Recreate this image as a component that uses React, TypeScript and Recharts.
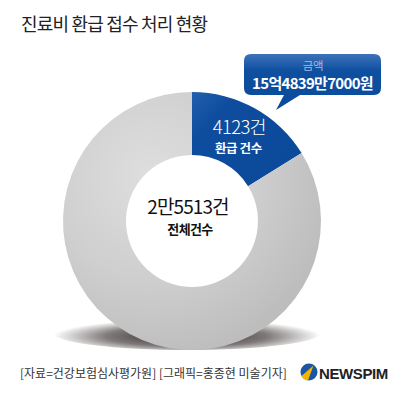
import { PieChart, Pie, Cell, Customized } from "recharts";

const categories = ["환급 건수", "미환급 건수"];
const counts = [4123, 21390];
const totalLabel = "2만5513건";
const refundLabel = "4123건";
const amountLabel = "15억4839만7000원";

const data = categories.map((name, i) => ({ name, value: counts[i] }));
const colors = ["url(#blueFill)", "url(#grayFill)"];

const FONT = "'Noto Sans CJK KR', 'Noto Sans', sans-serif";

const renderSliceLabel = ({ cx, cy, midAngle, innerRadius, outerRadius, index }: any) => {
  if (index !== 0) return null;
  const RAD = Math.PI / 180;
  const r = (innerRadius + outerRadius) / 2;
  const x = cx + r * Math.cos(-midAngle * RAD);
  const y = cy + r * Math.sin(-midAngle * RAD);
  return (
    <g>
      <text x={x} y={y - 2} textAnchor="middle" fill="#fff" fontSize={18.5} fontFamily={FONT} fontWeight={300} letterSpacing={-0.7}>
        {refundLabel}
      </text>
      <text x={x - 1} y={y + 17} textAnchor="middle" fill="#fff" fontSize={12.5} fontFamily={FONT} fontWeight={700} letterSpacing={-0.4}>
        {categories[0]}
      </text>
    </g>
  );
};

const Overlay = () => (
  <g>
    <path
      d="M251,54 H374 Q381,54 381,61 V88 Q381,95 374,95 H300 L276,110 L284,95 H251 Q244,95 244,88 V61 Q244,54 251,54 Z"
      fill="url(#boxFill)"
    />
    <text x={313} y={70} textAnchor="middle" fill="#9fbbe6" fontSize={11.5} fontFamily={FONT} letterSpacing={-0.3}>
      금액
    </text>
    <text x={312.5} y={89} textAnchor="middle" fill="#fff" fontSize={15} fontFamily={FONT} fontWeight={700} letterSpacing={-0.7}>
      {amountLabel}
    </text>
    <text x={188} y={214} textAnchor="middle" fill="#111" fontSize={19} fontFamily={FONT} fontWeight={400} letterSpacing={-0.9}>
      {totalLabel}
    </text>
    <text x={190} y={234} textAnchor="middle" fill="#111" fontSize={13} fontFamily={FONT} fontWeight={700} letterSpacing={-0.6}>
      전체건수
    </text>
  </g>
);

const App = () => {
  return (
    <div style={{ position: "absolute", left: 0, top: 0, width: 403, height: 398, background: "#fff" }}>
      <svg width={403} height={398} style={{ position: "absolute", left: 0, top: 0 }}>
        <defs>
          <radialGradient id="grayFill" gradientUnits="userSpaceOnUse" cx={150} cy={175} r={185}>
            <stop offset="0" stopColor="#dedede" />
            <stop offset="0.55" stopColor="#cfcfcf" />
            <stop offset="1" stopColor="#bdbdbd" />
          </radialGradient>
          <linearGradient id="blueFill" gradientUnits="userSpaceOnUse" x1={187} y1={90} x2={300} y2={200}>
            <stop offset="0" stopColor="#2762ad" />
            <stop offset="0.25" stopColor="#0e4c9e" />
            <stop offset="1" stopColor="#0a4898" />
          </linearGradient>
          <linearGradient id="boxFill" x1="0" y1="0" x2="0" y2="1">
            <stop offset="0" stopColor="#3d72b8" />
            <stop offset="0.3" stopColor="#0e4fa0" />
            <stop offset="1" stopColor="#0b4a9b" />
          </linearGradient>
          <radialGradient id="shadowFill" cx="0.5" cy="0.6" r="0.5">
            <stop offset="0" stopColor="#1e1414" stopOpacity="0.95" />
            <stop offset="0.6" stopColor="#2a2020" stopOpacity="0.6" />
            <stop offset="1" stopColor="#2a2020" stopOpacity="0" />
          </radialGradient>
        </defs>
        <text x={21} y={31} fill="#222" fontSize={18} fontFamily={FONT} letterSpacing={-0.8}>
          진료비 환급 접수 처리 현황
        </text>
        <ellipse cx={187} cy={333} rx={134} ry={17} fill="url(#shadowFill)" />
        <text x={20} y={378} fill="#333" fontSize={12} fontFamily={FONT} letterSpacing={0}>
          [자료=건강보험심사평가원] [그래픽=홍종현 미술기자]
        </text>
        <circle cx={309} cy={372} r={8.5} fill="#1a56a6" />
        <path d="M301.5,376 A8.5,8.5 0 0 0 308,380.4 L313.5,365.5 Z" fill="#f4b400" />
        <text x={319} y={378.5} fill="#222" fontSize={15} fontFamily="'Liberation Sans', Arial, sans-serif" fontWeight={700} letterSpacing={-0.4}>
          NEWSPIM
        </text>
      </svg>
      <div style={{ position: "absolute", left: 0, top: 0 }}>
        <PieChart width={403} height={398}>
          <Pie
            data={data}
            dataKey="value"
            cx={187}
            cy={216}
            innerRadius={66}
            outerRadius={129}
            startAngle={90}
            endAngle={-270}
            stroke="none"
            labelLine={false}
            label={renderSliceLabel}
            isAnimationActive={false}
          >
            {data.map((entry, index) => (
              <Cell key={`cell-${index}`} fill={colors[index]} />
            ))}
          </Pie>
          <Customized component={Overlay} />
        </PieChart>
      </div>
    </div>
  );
};

export default App;
